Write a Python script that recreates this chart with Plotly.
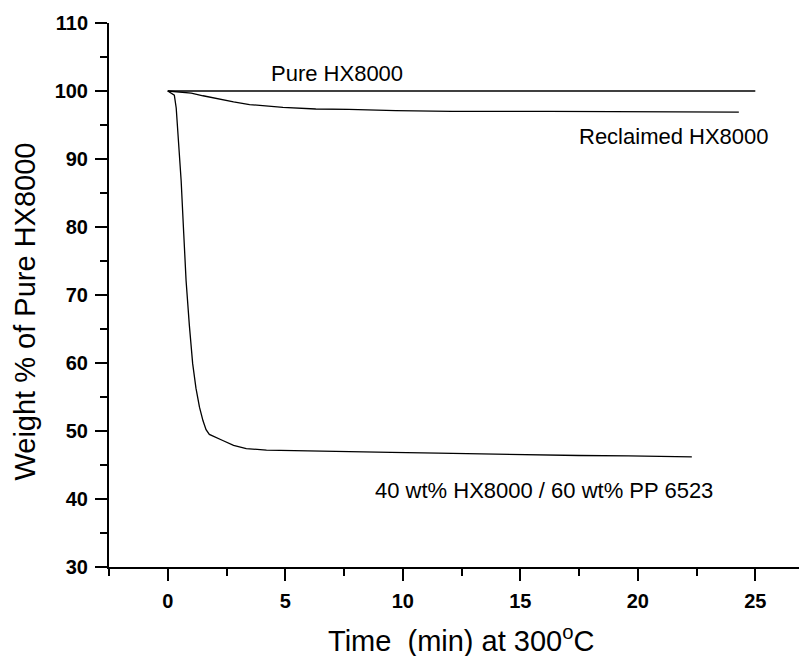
import plotly.graph_objects as go

# Pure HX8000
pure_t = [0, 25]
pure_w = [100, 100]

# Reclaimed HX8000
recl_t = [0, 0.5, 1.0, 1.5, 2.06, 2.8, 3.48, 4.2, 4.9, 6.3, 7.7, 9.7, 12.1, 16.2, 20.0, 24.3]
recl_w = [100, 99.85, 99.7, 99.3, 98.9, 98.4, 98.0, 97.8, 97.6, 97.35, 97.3, 97.1, 97.0, 97.0, 96.95, 96.9]

# 40 wt% HX8000 / 60 wt% PP 6523
blend_t = [0, 0.15, 0.28, 0.36, 0.45, 0.57, 0.68, 0.78, 0.92, 1.06, 1.2, 1.35, 1.5, 1.63, 1.77,
           2.06, 2.34, 2.8, 3.34, 4.2, 5.46, 7.6, 9.5, 11.5, 13.5, 15.4, 17.5, 19.6, 21.0, 22.3]
blend_w = [100, 99.7, 99.4, 97.5, 93.0, 86.8, 79.0, 72.1, 65.5, 59.9, 56.3, 53.5, 51.5, 50.2, 49.5,
           49.0, 48.6, 47.9, 47.4, 47.2, 47.1, 46.9, 46.85, 46.75, 46.6, 46.5, 46.4, 46.35, 46.3, 46.2]

series_names = ["Pure HX8000", "Reclaimed HX8000", "40 wt% HX8000 / 60 wt% PP 6523"]
x_ticks = [0, 5, 10, 15, 20, 25]
y_ticks = [30, 40, 50, 60, 70, 80, 90, 100, 110]

FONT = "Liberation Sans, Arial, sans-serif"

fig = go.Figure()
for t, w, n in [(pure_t, pure_w, series_names[0]), (recl_t, recl_w, series_names[1]),
                (blend_t, blend_w, series_names[2])]:
    fig.add_trace(go.Scatter(x=t, y=w, mode="lines", name=n,
                             line=dict(color="black", width=1.3), showlegend=False))

axis_common = dict(
    showline=True, linecolor="black", linewidth=2, showgrid=False, zeroline=False,
    ticks="outside", ticklen=12, tickwidth=2, tickcolor="black",
    tickfont=dict(family=FONT, size=20, color="black", weight="bold"),
    ticklabelstandoff=3, automargin=False,
)

fig.update_xaxes(range=[-2.5, 27.2], tickvals=x_ticks,
                 minor=dict(ticks="outside", ticklen=7, tickwidth=2, tickcolor="black",
                            dtick=2.5, tick0=0, showgrid=False),
                 **axis_common)
fig.update_yaxes(range=[30, 110], tickvals=y_ticks,
                 minor=dict(ticks="outside", ticklen=7, tickwidth=2, tickcolor="black",
                            dtick=5, tick0=0, showgrid=False),
                 **axis_common)

ann_font = dict(family=FONT, size=22, color="black")
annotations = [
    dict(x=7.2, y=102.6, xref="x", yref="y", text=series_names[0], showarrow=False, font=ann_font),
    dict(x=21.55, y=93.3, xref="x", yref="y", text=series_names[1], showarrow=False, font=ann_font),
    dict(x=16.0, y=41.2, xref="x", yref="y", text=series_names[2], showarrow=False, font=ann_font),
    dict(x=0.505, y=-0.133, xref="paper", yref="paper", text="Time  (min) at 300<sup>o</sup>C",
         showarrow=False, font=dict(family=FONT, size=29, color="black"), yanchor="middle"),
    dict(x=-0.12, y=0.47, xref="paper", yref="paper", text="Weight % of Pure HX8000",
         showarrow=False, textangle=-90, font=dict(family=FONT, size=29, color="black"),
         xanchor="center", yanchor="middle"),
]

fig.update_layout(
    width=807, height=656,
    margin=dict(l=101, r=8, t=15, b=97),
    paper_bgcolor="white", plot_bgcolor="white",
    annotations=annotations,
)

fig.write_html("out.html")
